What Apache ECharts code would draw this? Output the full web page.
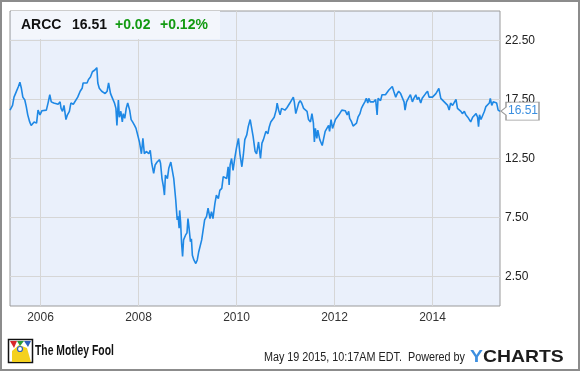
<!DOCTYPE html>
<html><head><meta charset="utf-8">
<script src="https://cdn.jsdelivr.net/npm/echarts@6/dist/echarts.min.js"></script>
<style>html,body{margin:0;padding:0;background:#fff}#c{width:580px;height:371px}</style>
</head><body><div id="c"></div>
<script>
// Dates as decimal years (May 2005 - May 2015)
const years = [
2005.378,2005.39,2005.43,2005.46,2005.49,2005.53,2005.55,2005.58,2005.61,2005.64,2005.68,2005.71,2005.74,2005.78,2005.81,2005.87,2005.92,2005.95,2005.99,
2006.03,2006.07,2006.12,2006.16,2006.19,2006.22,2006.27,2006.31,2006.36,2006.40,2006.42,2006.45,2006.48,2006.52,2006.55,2006.59,2006.62,2006.67,2006.71,2006.76,2006.81,2006.85,2006.87,2006.91,2006.95,2006.98,
2007.02,2007.06,2007.11,2007.15,2007.17,2007.20,2007.25,2007.29,2007.32,2007.36,2007.39,2007.43,2007.47,2007.51,2007.54,2007.56,2007.59,2007.61,2007.64,2007.67,2007.69,2007.72,2007.75,2007.78,2007.82,2007.85,2007.88,2007.92,2007.95,2007.99,
2008.02,2008.06,2008.09,2008.12,2008.16,2008.21,2008.24,2008.27,2008.31,2008.34,2008.38,2008.43,2008.45,2008.48,2008.51,2008.53,2008.55,2008.59,2008.62,2008.66,2008.69,2008.72,2008.76,2008.79,2008.81,2008.83,2008.84,2008.86,2008.88,2008.90,2008.92,2008.96,2008.99,
2009.01,2009.03,2009.06,2009.08,2009.10,2009.13,2009.17,2009.20,2009.23,2009.25,2009.29,2009.32,2009.35,2009.39,2009.42,2009.46,2009.49,2009.52,2009.56,2009.59,2009.63,2009.66,2009.70,2009.73,2009.76,2009.80,2009.83,2009.85,2009.87,2009.90,2009.93,2009.97,
2010.00,2010.04,2010.07,2010.11,2010.14,2010.17,2010.21,2010.24,2010.28,2010.31,2010.34,2010.38,2010.41,2010.45,2010.47,2010.49,2010.52,2010.55,2010.58,2010.60,2010.64,2010.67,2010.70,2010.73,2010.77,2010.81,2010.83,2010.86,2010.89,2010.92,2010.96,2010.99,
2011.03,2011.06,2011.09,2011.13,2011.16,2011.18,2011.21,2011.23,2011.27,2011.30,2011.33,2011.37,2011.40,2011.44,2011.47,2011.51,2011.54,2011.57,2011.59,2011.61,2011.64,2011.66,2011.70,2011.72,2011.75,2011.78,2011.81,2011.85,2011.88,2011.90,2011.93,2011.96,2011.98,
2012.02,2012.05,2012.09,2012.12,2012.15,2012.19,2012.22,2012.26,2012.29,2012.31,2012.35,2012.38,2012.41,2012.45,2012.48,2012.52,2012.55,2012.58,2012.62,2012.65,2012.68,2012.70,2012.73,2012.77,2012.80,2012.84,2012.87,2012.89,2012.92,2012.94,2012.97,
2013.01,2013.04,2013.08,2013.11,2013.14,2013.18,2013.21,2013.25,2013.28,2013.31,2013.35,2013.38,2013.42,2013.44,2013.47,2013.52,2013.55,2013.59,2013.62,2013.66,2013.69,2013.72,2013.76,2013.79,2013.83,2013.86,2013.90,2013.93,2013.96,
2014.00,2014.03,2014.07,2014.10,2014.13,2014.17,2014.20,2014.24,2014.27,2014.31,2014.34,2014.37,2014.41,2014.44,2014.48,2014.51,2014.54,2014.58,2014.61,2014.65,2014.68,2014.72,2014.75,2014.78,2014.82,2014.85,2014.89,2014.92,2014.94,2014.96,2014.99,
2015.02,2015.06,2015.09,2015.13,2015.16,2015.18,2015.21,2015.24,2015.28,2015.31,2015.34,2015.378
];
const prices = [
16.6,16.67,17.0,17.7,18.0,17.9,18.6,18.96,18.45,17.7,17.46,16.9,16.2,15.6,15.3,15.6,15.5,16.6,16.2,
16.55,16.5,16.6,17.3,17.9,17.3,17.2,17.2,17.1,17.3,16.75,16.5,17.0,15.8,16.2,16.5,17.2,17.1,17.2,17.7,18.2,18.45,18.9,19.0,18.9,19.2,
19.4,19.85,20.0,20.2,18.9,18.45,18.2,18.3,18.0,18.2,18.9,18.0,17.6,17.2,16.75,15.3,17.46,16.0,16.5,15.6,16.3,15.9,16.75,17.2,16.6,15.8,15.6,15.3,15.05,14.9,
13.9,12.9,14.2,12.9,13.1,12.9,13.2,12.1,11.25,11.95,12.2,12.4,12.1,10.8,10.1,9.4,11.1,10.8,11.7,12.2,11.5,10.8,9.0,7.3,7.6,6.6,8.1,7.1,5.3,4.2,5.6,6.0,6.2,
7.4,6.7,5.45,5.7,4.3,3.9,3.6,3.9,4.6,4.5,5.6,5.7,7.3,7.6,8.3,7.4,8.0,7.4,8.7,9.4,9.1,9.8,9.97,10.96,11.1,10.8,11.8,10.25,11.95,12.5,11.5,12.65,
13.4,14.2,12.9,11.8,12.8,14.1,14.5,15.2,15.8,15.7,14.35,13.1,12.9,13.9,13.2,12.5,13.8,14.1,14.2,14.8,14.6,15.2,15.6,15.5,16.0,16.6,17.2,16.6,16.2,16.75,16.9,16.6,
16.8,16.7,17.2,17.3,17.7,17.3,16.3,16.6,17.2,17.4,17.2,16.75,16.9,16.5,15.8,15.6,16.3,15.5,13.9,15.05,14.2,14.9,14.1,13.9,13.6,14.2,14.8,14.9,15.3,14.8,15.8,15.05,15.3,
15.8,15.9,16.2,16.3,16.6,16.5,16.55,16.2,16.5,15.9,15.6,15.25,15.2,15.5,16.0,16.3,16.75,17.0,17.3,17.6,17.2,17.6,17.3,17.4,17.3,17.5,16.2,17.6,17.7,17.4,17.9,
18.0,17.9,18.0,18.3,18.45,18.6,18.2,17.7,18.0,18.2,18.0,18.0,17.3,16.6,17.3,17.7,17.9,17.3,17.6,17.9,17.5,17.7,17.2,17.6,17.7,18.0,18.2,17.7,17.6,
17.7,17.8,18.0,18.0,18.45,17.6,17.5,17.3,17.3,17.0,16.6,17.2,17.0,16.9,17.5,16.75,16.9,16.5,16.3,16.5,16.2,16.0,15.9,15.6,16.0,15.9,16.3,16.0,15.2,16.2,15.8,
15.9,16.5,16.9,16.9,17.2,17.6,17.0,17.3,17.2,17.2,16.6,16.51
];
const xRange = [2005.378, 2015.378];
const yRange = [0, 25];
const yStep = 2.5;
const ticker = 'ARCC';
const lastPrice = '16.51';
const change = '+0.02';
const changePct = '+0.12%';
const stamp = 'May 19 2015, 10:17AM EDT.  Powered by';

const chart = echarts.init(document.getElementById('c'), null, {renderer: 'canvas'});
const FONT = '"Liberation Sans", Arial, sans-serif';
const n = years.length;

chart.setOption({
  animation: false,
  grid: {left: 10, right: 80, top: 11, bottom: 65, show: true, backgroundColor: '#eaf0fb', borderColor: '#9a9a9a', borderWidth: 1, outerBoundsMode: 'none'},
  xAxis: {
    type: 'value', min: xRange[0], max: xRange[1], splitNumber: 5,
    axisLine: {show: false}, axisTick: {show: false},
    axisLabel: {color: '#333', fontSize: 12, fontFamily: FONT, margin: 6, showMinLabel: false, showMaxLabel: false,
      formatter: v => (Math.abs(v - Math.round(v)) < 1e-6 ? String(Math.round(v)) : '')},
    splitLine: {show: true, showMinLine: false, showMaxLine: false, lineStyle: {color: '#d6d6d6', width: 1}}
  },
  yAxis: {
    type: 'value', position: 'right', min: yRange[0], max: yRange[1], interval: yStep,
    axisLine: {show: false}, axisTick: {show: false},
    axisLabel: {color: '#222', fontSize: 12, fontFamily: FONT, margin: 5,
      formatter: v => (Math.round(v / yStep) % 2 === 1 ? v.toFixed(2) : '')},
    splitLine: {show: true, lineStyle: {color: ['rgba(0,0,0,0)', '#d6d6d6'], width: 1}}
  },
  series: [{
    type: 'line', showSymbol: false, symbol: 'none',
    data: years.map((y, i) => [y, prices[i]]),
    lineStyle: {color: '#1e88e5', width: 1.6},
    markPoint: {
      symbol: 'path://M0,9 L5,5 L5,0 L38,0 L38,18 L5,18 L5,13 Z',
      symbolSize: [38, 18], symbolKeepAspect: false, symbolOffset: [20, 0],
      itemStyle: {color: '#fff', borderColor: '#999', borderWidth: 1},
      label: {show: true, position: 'inside', offset: [3, 0], color: '#3b8fe0', fontSize: 12, fontFamily: FONT, formatter: () => lastPrice},
      data: [{coord: [years[n - 1], prices[n - 1]], value: prices[n - 1]}]
    }
  }],
  graphic: [
    {type: 'rect', z: 100, shape: {x: 1, y: 1, width: 578, height: 369}, style: {fill: 'none', stroke: '#8c8c8c', lineWidth: 2}},
    {type: 'rect', z: 50, shape: {x: 11, y: 11, width: 209, height: 28}, style: {fill: '#f3f6fc'}},
    {type: 'text', z: 51, x: 21, y: 25, style: {text: ticker, font: 'bold 14px ' + FONT, fill: '#111', textVerticalAlign: 'middle'}},
    {type: 'text', z: 51, x: 72, y: 25, style: {text: lastPrice, font: 'bold 14px ' + FONT, fill: '#111', textVerticalAlign: 'middle'}},
    {type: 'text', z: 51, x: 115, y: 25, style: {text: change, font: 'bold 14px ' + FONT, fill: '#129a12', textVerticalAlign: 'middle'}},
    {type: 'text', z: 51, x: 160, y: 25, style: {text: changePct, font: 'bold 14px ' + FONT, fill: '#129a12', textVerticalAlign: 'middle'}},
    // Motley Fool logo (simplified)
    {type: 'rect', z: 50, shape: {x: 8.5, y: 339.5, width: 24, height: 23}, style: {fill: '#fff', stroke: '#111', lineWidth: 1.5}},
    {type: 'polygon', z: 51, shape: {points: [[12, 351], [19, 345], [27, 348], [31, 362], [12, 362]]}, style: {fill: '#f4d11e'}},
    {type: 'polygon', z: 51, shape: {points: [[10, 341], [17, 341], [14, 348]]}, style: {fill: '#d8262b'}},
    {type: 'polygon', z: 51, shape: {points: [[17, 341], [24, 341], [20, 346]]}, style: {fill: '#2b9b3a'}},
    {type: 'polygon', z: 51, shape: {points: [[24, 341], [31, 341], [28, 347]]}, style: {fill: '#2e5fbf'}},
    {type: 'circle', z: 52, shape: {cx: 20, cy: 349, r: 2.5}, style: {fill: '#fff', stroke: '#2e5fbf', lineWidth: 1.2}},
    {type: 'text', z: 51, x: 35, y: 351.5, scaleX: 0.74, style: {text: 'The Motley Fool', font: 'bold 14px ' + FONT, fill: '#111', textVerticalAlign: 'middle'}},
    {type: 'text', z: 51, x: 465, y: 358, scaleX: 0.9, style: {text: stamp, font: '12px ' + FONT, fill: '#222', textAlign: 'right', textVerticalAlign: 'middle'}},
    {type: 'text', z: 51, x: 470, y: 357.5, scaleX: 1.14, style: {text: '{y|Y}{c|CHARTS}', font: 'bold 17px ' + FONT, textVerticalAlign: 'middle',
      rich: {y: {fill: '#3d8fe0', font: 'bold 17px ' + FONT}, c: {fill: '#1c1c1c', font: 'bold 17px ' + FONT}}}}
  ]
});
</script>
</body></html>
